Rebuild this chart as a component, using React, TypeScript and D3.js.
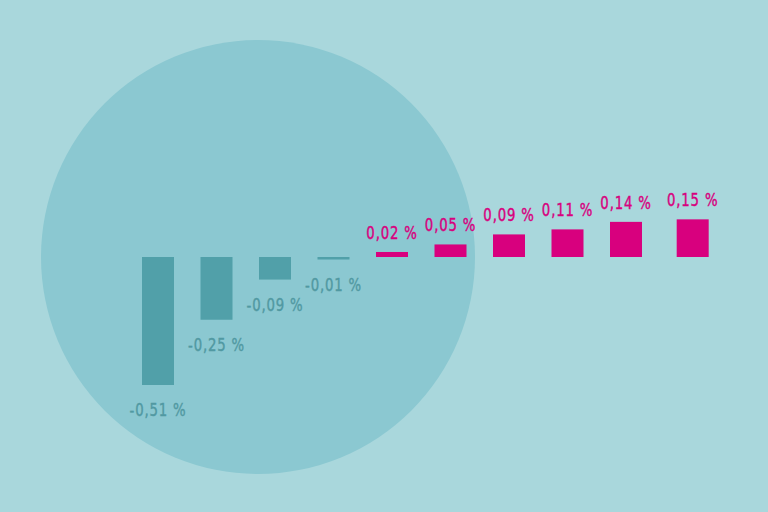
import React from "react";
import * as d3 from "d3";

const categories = ["1", "2", "3", "4", "5", "6", "7", "8", "9", "10"];
const slots = [0, 1, 2, 3, 4, 5, 6, 7, 8, 9.14];
const values = [-0.51, -0.25, -0.09, -0.01, 0.02, 0.05, 0.09, 0.11, 0.14, 0.15];
const labels = ["-0,51 %", "-0,25 %", "-0,09 %", "-0,01 %", "0,02 %", "0,05 %", "0,09 %", "0,11 %", "0,14 %", "0,15 %"];

const W = 768;
const H = 512;
const BG = "#a9d7dc";
const CIRCLE = "#8bc8d1";
const NEG = "#51a0a9";
const NEG_TEXT = "#5199a2";
const POS = "#d8007e";

export default function App() {
  const x = d3.scaleLinear().domain([0, 8]).range([158, 626]);
  const y = d3.scaleLinear().domain([-0.51, 0]).range([385, 257]);
  const barW = 32;
  const font = "'DejaVu Sans Condensed', 'DejaVu Sans', sans-serif";
  const sx = 0.82;

  return (
    <svg
      width={W}
      height={H}
      style={{ position: "fixed", left: 0, top: 0, display: "block" }}
    >
      <rect x={0} y={0} width={W} height={H} fill={BG} />
      <circle cx={258} cy={257} r={217} fill={CIRCLE} />
      {categories.map((c, i) => {
        const v = values[i];
        const cx = x(slots[i]);
        const y0 = y(0);
        const y1 = y(v);
        const top = Math.min(y0, y1);
        const h = Math.max(Math.abs(y1 - y0), 2);
        const neg = v < 0;
        const ty = neg ? top + h + 31 : top - 13;
        const col = neg ? NEG_TEXT : POS;
        return (
          <g key={c}>
            <rect x={cx - barW / 2} y={top} width={barW} height={h} fill={neg ? NEG : POS} />
            <g transform={`translate(${cx},${ty}) scale(${sx},1)`}>
              <text
                x={0}
                y={0}
                textAnchor="middle"
                fontFamily={font}
                fontSize={18}
                letterSpacing={1}
                fill={col}
                stroke={col}
                strokeWidth={0.4}
              >
                {labels[i]}
              </text>
            </g>
          </g>
        );
      })}
    </svg>
  );
}
